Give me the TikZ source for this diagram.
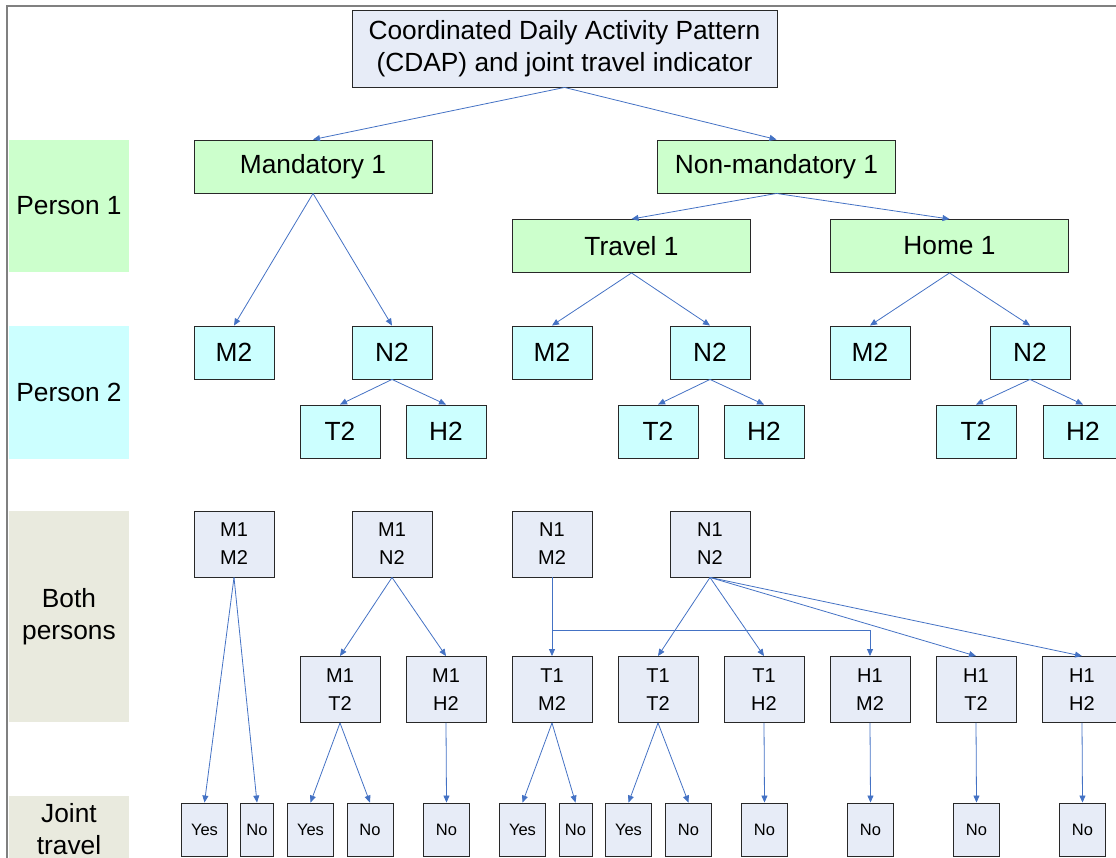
\documentclass[tikz,border=0pt]{standalone}
\usepackage{fontspec}
\setmainfont{Liberation Sans}
\usetikzlibrary{arrows.meta}
\definecolor{boxfill}{RGB}{231,236,247}
\definecolor{grnfill}{RGB}{204,255,204}
\definecolor{cyanfill}{RGB}{204,255,255}
\definecolor{beige}{RGB}{233,234,222}
\definecolor{edge}{RGB}{40,40,40}
\definecolor{arrowblue}{RGB}{68,114,196}
\definecolor{framegray}{RGB}{128,128,128}
\tikzset{
  box/.style={draw=edge, line width=0.9pt, inner sep=0pt, align=center, text=black},
  bigfont/.style={font=\fontsize{26.3}{32}\selectfont},
  topbox/.style={box, bigfont, fill=boxfill, minimum width=425pt, minimum height=77pt},
  grnbox/.style={box, bigfont, fill=grnfill, minimum width=238pt, minimum height=53pt},
  cyanbox/.style={box, bigfont, fill=cyanfill, minimum width=80pt, minimum height=53pt},
  pairbox/.style={box, fill=boxfill, minimum width=80pt, minimum height=66pt, font=\fontsize{20}{28}\selectfont},
  yesbox/.style={box, fill=boxfill, minimum width=46pt, minimum height=53pt, font=\fontsize{16.5}{20}\selectfont},
  nobox/.style={yesbox, minimum width=33pt},
  lab/.style={inner sep=0pt, align=center, minimum width=120pt, bigfont, text=black},
  arr/.style={draw=arrowblue, line width=0.8pt, -{Triangle[length=7pt,width=6pt]}},
}
\begin{document}
\begin{tikzpicture}[x=1pt,y=-1pt]
\useasboundingbox (0,0) rectangle (1116,858);
\clip (0,0) rectangle (1116,858);
% frame
\draw[framegray, line width=2pt] (7,870) -- (7,6) -- (1120,6);
% row labels
\node[lab, fill=grnfill, minimum height=132pt] (p1) at (69,206) {Person 1};
\node[lab, fill=cyanfill, minimum height=133pt] (p2) at (69,392.5) {Person 2};
\node[lab, fill=beige, minimum height=211pt] (bp) at (69,616.5) {Both\\persons};
\node[lab, fill=beige, minimum height=66pt, anchor=north] (jt) at (69,796) {Joint\\travel};
% top
\node[topbox] (cdap) at (564.5,48.5) {Coordinated Daily Activity Pattern\\(CDAP) and joint travel indicator};
% person 1
\node[grnbox] (mand) at (313,166.5) {Mandatory 1};
\node[grnbox] (nonm) at (776.5,166.5) {Non-mandatory 1};
\node[grnbox] (trav) at (631.5,246) {Travel 1};
\node[grnbox] (home) at (949.5,246) {Home 1};
% person 2
\node[cyanbox] (am2) at (234,352.5) {M2};
\node[cyanbox] (an2) at (392,352.5) {N2};
\node[cyanbox] (at2) at (340,431.5) {T2};
\node[cyanbox] (ah2) at (446,431.5) {H2};
\node[cyanbox] (bm2) at (552,352.5) {M2};
\node[cyanbox] (bn2) at (710,352.5) {N2};
\node[cyanbox] (bt2) at (658,431.5) {T2};
\node[cyanbox] (bh2) at (764,431.5) {H2};
\node[cyanbox] (cm2) at (870,352.5) {M2};
\node[cyanbox] (cn2) at (1030,352.5) {N2};
\node[cyanbox] (ct2) at (976,431.5) {T2};
\node[cyanbox] (ch2) at (1083,431.5) {H2};
% both persons
\node[pairbox] (m1m2) at (234,544) {M1\\M2};
\node[pairbox] (m1n2) at (392,544) {M1\\N2};
\node[pairbox] (n1m2) at (552,544) {N1\\M2};
\node[pairbox] (n1n2) at (710,544) {N1\\N2};
\node[pairbox] (m1t2) at (340,689.5) {M1\\T2};
\node[pairbox] (m1h2) at (446,689.5) {M1\\H2};
\node[pairbox] (t1m2) at (552,689.5) {T1\\M2};
\node[pairbox] (t1t2) at (658,689.5) {T1\\T2};
\node[pairbox] (t1h2) at (764,689.5) {T1\\H2};
\node[pairbox] (h1m2) at (870,689.5) {H1\\M2};
\node[pairbox] (h1t2) at (976,689.5) {H1\\T2};
\node[pairbox] (h1h2) at (1082,689.5) {H1\\H2};
% joint travel
\node[yesbox] (y1) at (204.5,829.5) {Yes};
\node[nobox] (n1) at (257,829.5) {No};
\node[yesbox] (y2) at (310.5,829.5) {Yes};
\node[yesbox] (n2) at (370,829.5) {No};
\node[yesbox] (n3) at (446.5,829.5) {No};
\node[yesbox] (y4) at (522.5,829.5) {Yes};
\node[nobox] (n4) at (575.5,829.5) {No};
\node[yesbox] (y5) at (628.5,829.5) {Yes};
\node[yesbox] (n5) at (688.5,829.5) {No};
\node[yesbox] (n6) at (764.5,829.5) {No};
\node[yesbox] (n7) at (870.5,829.5) {No};
\node[yesbox] (n8) at (976.5,829.5) {No};
\node[yesbox] (n9) at (1082.5,829.5) {No};
% connectors
\draw[arr] (cdap.south) -- (mand.north);
\draw[arr] (cdap.south) -- (nonm.north);
\draw[arr] (mand.south) -- (am2.north);
\draw[arr] (mand.south) -- (an2.north);
\draw[arr] (nonm.south) -- (trav.north);
\draw[arr] (nonm.south) -- (home.north);
\draw[arr] (trav.south) -- (bm2.north);
\draw[arr] (trav.south) -- (bn2.north);
\draw[arr] (home.south) -- (cm2.north);
\draw[arr] (home.south) -- (cn2.north);
\draw[arr] (an2.south) -- (at2.north);
\draw[arr] (an2.south) -- (ah2.north);
\draw[arr] (bn2.south) -- (bt2.north);
\draw[arr] (bn2.south) -- (bh2.north);
\draw[arr] (cn2.south) -- (ct2.north);
\draw[arr] (cn2.south) -- (ch2.north);
\draw[arr] (m1n2.south) -- (m1t2.north);
\draw[arr] (m1n2.south) -- (m1h2.north);
\draw[arr] (n1m2.south) -- (t1m2.north);
\coordinate (jn) at (552,630);
\draw[arr] (jn) -| (h1m2.north);
\draw[arr] (n1n2.south) -- (t1t2.north);
\draw[arr] (n1n2.south) -- (t1h2.north);
\draw[arr] (n1n2.south) -- (h1t2.north);
\draw[arr] (n1n2.south) -- (h1h2.north);
\draw[arr] (m1m2.south) -- (y1.north);
\draw[arr] (m1m2.south) -- (n1.north);
\draw[arr] (m1t2.south) -- (y2.north);
\draw[arr] (m1t2.south) -- (n2.north);
\draw[arr] (m1h2.south) -- (n3.north);
\draw[arr] (t1m2.south) -- (y4.north);
\draw[arr] (t1m2.south) -- (n4.north);
\draw[arr] (t1t2.south) -- (y5.north);
\draw[arr] (t1t2.south) -- (n5.north);
\draw[arr] (t1h2.south) -- (n6.north);
\draw[arr] (h1m2.south) -- (n7.north);
\draw[arr] (h1t2.south) -- (n8.north);
\draw[arr] (h1h2.south) -- (n9.north);
\end{tikzpicture}
\end{document}
